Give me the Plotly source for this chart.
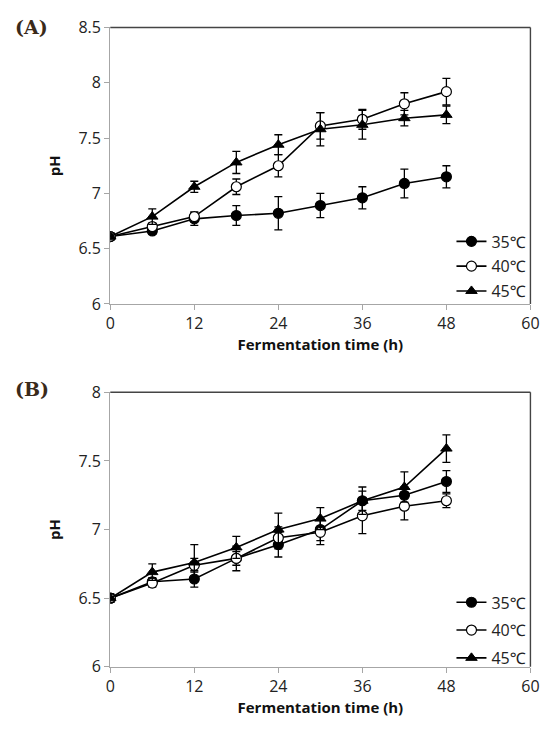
import plotly.graph_objects as go

time_h = [0, 6, 12, 18, 24, 30, 36, 42, 48]
series_names = ["35℃", "40℃", "45℃"]

# Panel A
a_35 = [6.61, 6.66, 6.77, 6.80, 6.82, 6.89, 6.96, 7.09, 7.15]
a_35_err = [0.03, 0.03, 0.06, 0.09, 0.15, 0.11, 0.10, 0.13, 0.10]
a_40 = [6.61, 6.70, 6.79, 7.06, 7.25, 7.61, 7.67, 7.81, 7.92]
a_40_err = [0.03, 0.03, 0.04, 0.07, 0.10, 0.12, 0.09, 0.10, 0.12]
a_45 = [6.61, 6.79, 7.06, 7.28, 7.44, 7.58, 7.62, 7.68, 7.71]
a_45_err = [0.03, 0.07, 0.05, 0.10, 0.09, 0.15, 0.13, 0.07, 0.08]

# Panel B
b_35 = [6.50, 6.62, 6.64, 6.79, 6.89, 7.00, 7.21, 7.25, 7.35]
b_35_err = [0.03, 0.03, 0.06, 0.05, 0.09, 0.08, 0.07, 0.06, 0.08]
b_40 = [6.50, 6.61, 6.74, 6.79, 6.94, 6.98, 7.10, 7.17, 7.21]
b_40_err = [0.03, 0.03, 0.05, 0.09, 0.08, 0.09, 0.13, 0.10, 0.05]
b_45 = [6.50, 6.69, 6.76, 6.87, 7.00, 7.08, 7.21, 7.31, 7.59]
b_45_err = [0.03, 0.06, 0.13, 0.08, 0.12, 0.08, 0.10, 0.11, 0.10]

x_ticks = [0, 12, 24, 36, 48, 60]
a_y_ticks = [6, 6.5, 7, 7.5, 8, 8.5]
b_y_ticks = [6, 6.5, 7, 7.5, 8]

W, H = 556, 738
FONT = "Open Sans, Noto Sans, sans-serif"

def py(px):
    return 1 - px / H

marker_styles = [
    dict(symbol="circle", color="black", size=10, line=dict(color="black", width=1.2)),
    dict(symbol="circle", color="white", size=10, line=dict(color="black", width=1.2)),
    dict(symbol="triangle-up", color="black", size=10, line=dict(color="black", width=1)),
]

fig = go.Figure()

panels = [
    ("x", "y", "legend", "a", [a_35, a_40, a_45], [a_35_err, a_40_err, a_45_err]),
    ("x2", "y2", "legend2", "b", [b_35, b_40, b_45], [b_35_err, b_40_err, b_45_err]),
]
for xa, ya, lg, tag, ys, errs in panels:
    for i, (name, yv, ev, mk) in enumerate(zip(series_names, ys, errs, marker_styles)):
        fig.add_trace(go.Scatter(
            x=time_h, y=yv, name=name, mode="lines+markers",
            xaxis=xa, yaxis=ya, legend=lg, legendgroup=f"{tag}{i}",
            line=dict(color="black", width=1.6),
            marker=mk,
            error_y=dict(type="data", array=ev, visible=True, color="black",
                         thickness=1.3, width=4),
        ))

xd = [108 / W, 539 / W]
axis_common = dict(
    showgrid=False, zeroline=False, showline=True, linecolor="#a6a6a6", linewidth=1.2,
    ticks="outside", ticklen=5, tickcolor="#a6a6a6", tickwidth=1.2,
    tickfont=dict(family=FONT, size=16, color="#222"),
)
title_font = dict(family=FONT, size=15, color="#111", weight="bold")
legend_font = dict(family=FONT, size=16, color="#222")

fig.update_layout(
    width=W, height=H, margin=dict(l=0, r=0, t=0, b=0),
    paper_bgcolor="white", plot_bgcolor="white",
    showlegend=True,
    xaxis=dict(domain=xd, range=[0, 60], tickvals=x_ticks, anchor="y",
               title=dict(text="Fermentation time (h)", font=title_font, standoff=6),
               **axis_common),
    yaxis=dict(domain=[py(302), py(17)], range=[6, 8.5], tickvals=a_y_ticks,
               ticktext=[f"{v:g}" for v in a_y_ticks], anchor="x",
               title=dict(text="pH", font=title_font, standoff=14), **axis_common),
    xaxis2=dict(domain=xd, range=[0, 60], tickvals=x_ticks, anchor="y2",
                title=dict(text="Fermentation time (h)", font=title_font, standoff=6),
                **axis_common),
    yaxis2=dict(domain=[py(676), py(393)], range=[6, 8], tickvals=b_y_ticks,
                ticktext=[f"{v:g}" for v in b_y_ticks], anchor="x2",
                title=dict(text="pH", font=title_font, standoff=14), **axis_common),
    legend=dict(x=458 / W, y=py(220), xanchor="left", yanchor="top",
                bgcolor="rgba(0,0,0,0)", font=legend_font,
                itemwidth=30, tracegroupgap=1),
    legend2=dict(x=458 / W, y=py(592), xanchor="left", yanchor="top",
                 bgcolor="rgba(0,0,0,0)", font=legend_font,
                 itemwidth=30, tracegroupgap=4),
    annotations=[
        dict(text="<b>(A)</b>", x=8 / W, y=py(3), xref="paper", yref="paper",
             xanchor="left", yanchor="top", showarrow=False,
             font=dict(family="DejaVu Serif, Liberation Serif, serif", size=19, color="#3a2a1a")),
        dict(text="<b>(B)</b>", x=8 / W, y=py(376), xref="paper", yref="paper",
             xanchor="left", yanchor="top", showarrow=False,
             font=dict(family="DejaVu Serif, Liberation Serif, serif", size=19, color="#3a2a1a")),
    ],
    shapes=[
        dict(type="line", xref="x domain", yref="y domain", x0=0, x1=1, y0=1, y1=1,
             line=dict(color="#444", width=1.4)),
        dict(type="line", xref="x domain", yref="y domain", x0=1, x1=1, y0=0, y1=1,
             line=dict(color="#444", width=1.4)),
        dict(type="line", xref="x2 domain", yref="y2 domain", x0=0, x1=1, y0=1, y1=1,
             line=dict(color="#444", width=1.4)),
        dict(type="line", xref="x2 domain", yref="y2 domain", x0=1, x1=1, y0=0, y1=1,
             line=dict(color="#444", width=1.4)),
    ],
)

fig.write_html("out.html")
